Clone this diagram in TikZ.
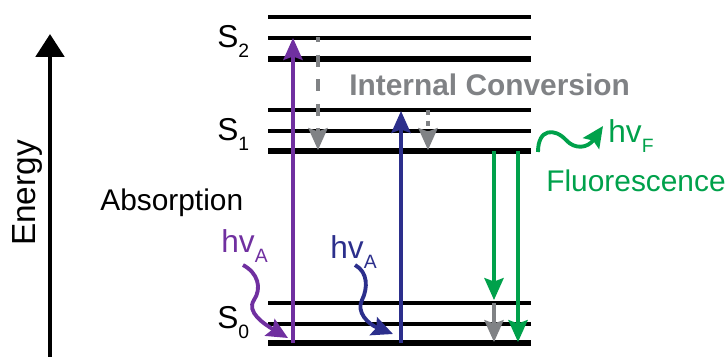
\documentclass[tikz,border=0pt]{standalone}
\usepackage{fontspec}
\setmainfont{Liberation Sans}
\usetikzlibrary{arrows.meta}
\definecolor{abspurple}{RGB}{112,48,160}
\definecolor{absblue}{RGB}{44,47,140}
\definecolor{icgray}{RGB}{128,130,133}
\definecolor{fluogreen}{RGB}{0,161,75}
\newcommand{\lowsub}[1]{\raisebox{-6pt}{\fontsize{11}{11}\selectfont #1}}

\begin{document}
\begin{tikzpicture}[
    x=0.02cm, y=-0.02cm,
    every node/.style={inner sep=0pt},
    level/.style={line width=1.8pt},
    groundlevel/.style={line width=3pt},
    axisarrow/.style={-{Triangle[width=16pt,length=13pt]}, line width=2.6pt},
    transarrow/.style={-{Stealth[width=11pt,length=12.5pt,inset=2pt]}, line width=1.8pt},
    icarrow/.style={transarrow, color=icgray},
    photon/.style={-{Stealth[width=11pt,length=12pt,inset=2pt]}, line width=2.2pt},
    bigtext/.style={font=\fontsize{18}{21}\selectfont},
    labeltext/.style={font=\fontsize{17}{20}\selectfont}
]
\useasboundingbox (0,0) rectangle (726,356);

% Energy axis
\coordinate (ebot) at (50,358);
\coordinate (etop) at (50,34);
\draw[axisarrow] (ebot) -- (etop);
\node[labeltext, font=\fontsize{19}{22}\selectfont, rotate=90, anchor=base] (energy) at (35,193) {Energy};

% vibrational levels
\foreach \y in {17,38,110,131,303,324}
    \draw[level] (268,\y) -- (531,\y);
\foreach \y in {59,151,343}
    \draw[groundlevel] (268,\y) -- (531,\y);

% state labels
\node[bigtext, anchor=base west] (s2) at (217,47) {S\lowsub{2}};
\node[bigtext, anchor=base west] (s1) at (217,140) {S\lowsub{1}};
\node[bigtext, anchor=base west] (s0) at (217,328) {S\lowsub{0}};

% arrow end points
\coordinate (pur0) at (293,343);
\coordinate (pur2) at (293,38);
\coordinate (blu0) at (401,343);
\coordinate (blu1) at (401,111);
\coordinate (icAtop) at (318,37);
\coordinate (icAbot) at (318,150);
\coordinate (icBtop) at (428,110);
\coordinate (icBbot) at (428,150);
\coordinate (flA1) at (494,151);
\coordinate (flA0) at (494,300);
\coordinate (flB1) at (518,151);
\coordinate (flB0) at (518,342);
\coordinate (vrtop) at (494,303);
\coordinate (vrbot) at (494,342);

% absorption
\draw[transarrow, abspurple] (pur0) -- (pur2);
\draw[transarrow, absblue] (blu0) -- (blu1);
\node[labeltext, anchor=base west] (absorb) at (100,210) {Absorption};

% internal conversion
\draw[icarrow, dash pattern=on 7pt off 7pt, dash phase=4pt] (icAtop) -- (icAbot);
\draw[icarrow, dash pattern=on 3pt off 3pt] (icBtop) -- (icBbot);
\draw[icarrow] (vrtop) -- (vrbot);
\node[labeltext, font=\fontsize{17}{20}\selectfont\bfseries, text=icgray, anchor=base west] (ic) at (349,95) {Internal Conversion};

% fluorescence
\draw[transarrow, fluogreen] (flA1) -- (flA0);
\draw[transarrow, fluogreen] (flB1) -- (flB0);
\node[labeltext, text=fluogreen, anchor=base west] (fluo) at (546,191) {Fluorescence};

% photons
\node[bigtext, text=abspurple, anchor=base west] (hvpur) at (221,252) {hv\lowsub{A}};
\draw[photon, abspurple] (243,265) .. controls (258,273) and (262,288) .. (254,300)
    .. controls (246,312) and (264,324) .. (288,338);
\node[bigtext, text=absblue, anchor=base west] (hvblu) at (330,258) {hv\lowsub{A}};
\draw[photon, absblue] (355,265) .. controls (368,272) and (368,288) .. (362,300)
    .. controls (356,312) and (368,324) .. (393,334);
\node[bigtext, text=fluogreen, anchor=base west] (hvfl) at (608,142) {hv\lowsub{F}};
\draw[photon, fluogreen] (538,152) .. controls (538,128) and (555,128) .. (566,140)
    .. controls (575,150) and (588,148) .. (603,126);

\end{tikzpicture}
\end{document}
